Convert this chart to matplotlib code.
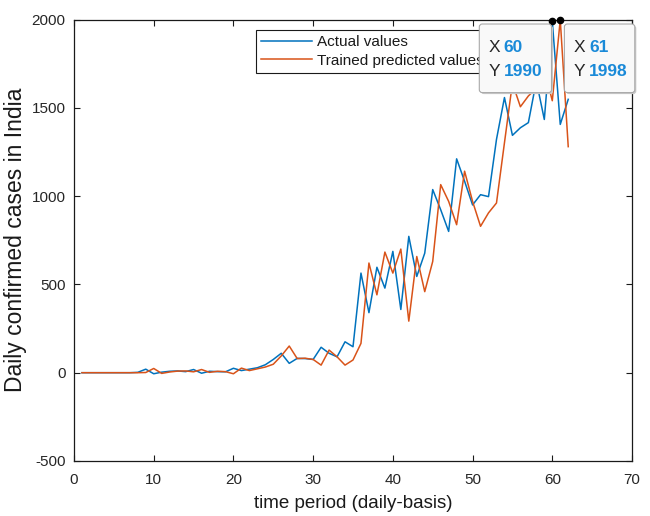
import matplotlib
matplotlib.use('Agg')
import matplotlib.pyplot as plt
from matplotlib.patches import FancyBboxPatch
from matplotlib.transforms import IdentityTransform

# ---------------- data ----------------
days = list(range(1, 63))
actual = [0, 0, 0, 0, 0, 0, 0, 2, 20, -6,
          3, 8, 10, 6, 18, -3, 8, 6, 5, 25,
          12, 20, 28, 45, 75, 110, 53, 81, 80, 75,
          144, 110, 90, 175, 147, 564, 340, 597, 479, 687,
          358, 772, 545, 677, 1037, 923, 800, 1211, 1084, 950,
          1008, 997, 1321, 1558, 1344, 1387, 1416, 1652, 1434, 1990,
          1406, 1548]
predicted = [0, 0, 0, 0, 0, 0, 0, 0, 1, 24,
             -4, 4, 9, 10, 5, 18, 2, 8, 6, -6,
             26, 12, 22, 32, 48, 95, 151, 80, 82, 75,
             43, 128, 90, 43, 72, 166, 621, 441, 683, 564,
             700, 292, 658, 459, 630, 1065, 970, 838, 1141, 970,
             829, 905, 961, 1302, 1640, 1506, 1567, 1610, 1720, 1540,
             1998, 1280]
series_labels = ['Actual values', 'Trained predicted values']
x_ticks = [0, 10, 20, 30, 40, 50, 60, 70]
y_ticks = [-500, 0, 500, 1000, 1500, 2000]
tip_days = [60, 61]          # data tips: (actual @ 60), (predicted @ 61)
x_label = 'time period (daily-basis)'
y_label = 'Daily confirmed cases in India'

# ---------------- figure ----------------
plt.rcParams['font.family'] = ['Liberation Sans', 'DejaVu Sans']
plt.rcParams['axes.unicode_minus'] = False
W, H = 650, 516
fig = plt.figure(figsize=(W / 100, H / 100), dpi=100)
fig.patch.set_facecolor('white')

ax_l, ax_r, ax_t, ax_b = 74, 632, 19.5, 461
ax = fig.add_axes([ax_l / W, 1 - ax_b / H, (ax_r - ax_l) / W, (ax_b - ax_t) / H])

blue = '#0072BD'
orange = '#D95319'
ax.plot(days, actual, color=blue, lw=1.1, label=series_labels[0])
ax.plot(days, predicted, color=orange, lw=1.1, label=series_labels[1])

ax.set_xlim(x_ticks[0], x_ticks[-1])
ax.set_ylim(y_ticks[0], y_ticks[-1])
ax.set_xticks(x_ticks)
ax.set_yticks(y_ticks)
ax.tick_params(direction='in', top=True, right=True, length=4, width=0.8,
               labelsize=11, colors='#1a1a1a', labelcolor='#262626')
ax.tick_params(axis='x', pad=8.5)
ax.tick_params(axis='y', pad=6)
for s in ax.spines.values():
    s.set_linewidth(0.9)
    s.set_color('#1a1a1a')

ax.set_xlabel(x_label, fontsize=13.5, color='#1a1a1a', labelpad=6)
ax.set_ylabel(y_label, fontsize=16.5, color='#1a1a1a', labelpad=3)

leg = ax.legend(loc='upper left', bbox_to_anchor=(256 / W, 1 - 29.6 / H),
                bbox_transform=fig.transFigure, fontsize=11, frameon=True,
                fancybox=False, edgecolor='#1a1a1a', framealpha=1,
                handlelength=3.3, handletextpad=0.37, borderpad=0.35,
                labelspacing=0.3, borderaxespad=0)
leg.get_frame().set_linewidth(0.8)
for t in leg.get_texts():
    t.set_color('#1a1a1a')

# data tip markers
tip_vals = [actual[days.index(tip_days[0])], predicted[days.index(tip_days[1])]]
ax.plot(tip_days, tip_vals, 'o', color='black', ms=4.5, clip_on=False, zorder=6)

# data tip boxes (pixel coordinates)
idt = IdentityTransform()
boxes = [(479.3, 551.5), (564.4, 634.8)]
top, bottom = 24, 92.6
for (x0, x1), dx, dy in zip(boxes, tip_days, tip_vals):
    y0 = H - bottom
    hgt = bottom - top
    shadow = FancyBboxPatch((x0 + 1.5, y0 - 1.5), x1 - x0, hgt,
                            boxstyle='round,pad=0,rounding_size=3',
                            transform=idt, facecolor='#c9c9c9', edgecolor='none',
                            zorder=8)
    box = FancyBboxPatch((x0, y0), x1 - x0, hgt,
                         boxstyle='round,pad=0,rounding_size=3',
                         transform=idt, facecolor='#f9f9f9', edgecolor='#a9a9a9',
                         lw=0.8, zorder=9)
    fig.patches.extend([shadow, box])
    fig.text(x0 + 9, H - 48, 'X', transform=idt, fontsize=12.5, color='#262626',
             va='center', ha='left', zorder=10)
    fig.text(x0 + 9, H - 71.5, 'Y', transform=idt, fontsize=12.5, color='#262626',
             va='center', ha='left', zorder=10)
    fig.text(x0 + 24.5, H - 48, f'{dx}', transform=idt, fontsize=12.5, color='#1a8ad8',
             fontweight='bold', va='center', ha='left', zorder=10)
    fig.text(x0 + 24.5, H - 71.5, f'{dy}', transform=idt, fontsize=12.5, color='#1a8ad8',
             fontweight='bold', va='center', ha='left', zorder=10)

fig.savefig('out.png', dpi=100, facecolor='white')
